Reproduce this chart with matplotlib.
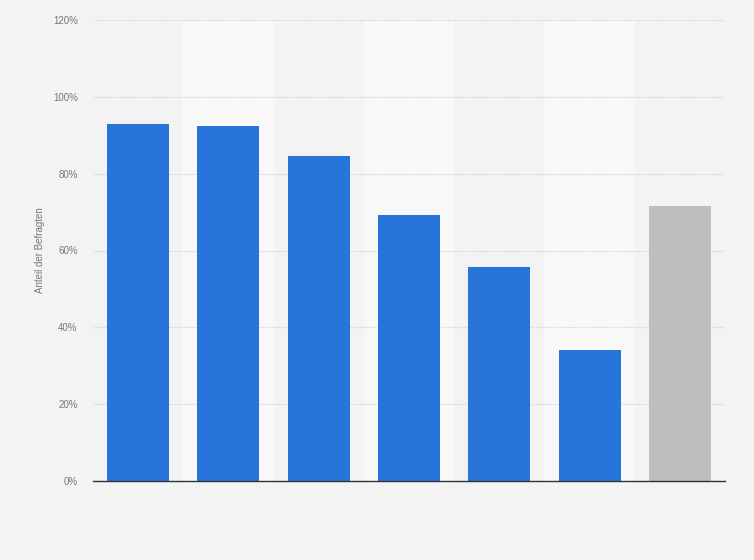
import matplotlib
matplotlib.use("Agg")
import matplotlib.pyplot as plt
from matplotlib.ticker import FuncFormatter

plt.rcParams["font.family"] = ["Liberation Sans", "DejaVu Sans"]

categories = ["1", "2", "3", "4", "5", "6", "7"]
values = [92.9, 92.4, 84.6, 69.2, 55.7, 34.1, 71.6]
colors = ["#2775db"] * 6 + ["#bebebe"]
yticks = [0, 20, 40, 60, 80, 100, 120]

fig = plt.figure(figsize=(7.54, 5.6), dpi=100)
fig.patch.set_facecolor("#f3f3f3")
ax = fig.add_axes([93 / 754, 1 - 481 / 560, (725 - 93) / 754, (481 - 20) / 560])
ax.set_facecolor("#f3f3f3")

x = list(range(len(categories)))
for i in x:
    if i % 2 == 1:
        ax.axvspan(i - 0.5, i + 0.5, color="#f8f8f8", zorder=0, lw=0)

ax.bar(x, values, width=0.687, color=colors, zorder=3, edgecolor="none")
ax.set_xlim(-0.5, len(categories) - 0.5)
ax.set_ylim(0, 120)
ax.set_yticks(yticks)
ax.yaxis.set_major_formatter(FuncFormatter(lambda v, p: f"{int(v)}%"))
ax.tick_params(axis="y", length=0, labelsize=7, labelcolor="#777777", pad=11)
ax.set_xticks([])
ax.grid(axis="y", color="#cfcfcf", linestyle=(0, (1, 1.2)), linewidth=0.8, zorder=1)
for s in ["top", "right", "left"]:
    ax.spines[s].set_visible(False)
ax.spines["bottom"].set_color("#333333")
ax.spines["bottom"].set_linewidth(1.0)
ax.spines["bottom"].set_zorder(4)
fig.text(40 / 754, 1 - 250 / 560, "Anteil der Befragten", rotation=90,
         fontsize=7, color="#777777", ha="center", va="center")

fig.savefig("out.png", dpi=100, facecolor=fig.get_facecolor())
